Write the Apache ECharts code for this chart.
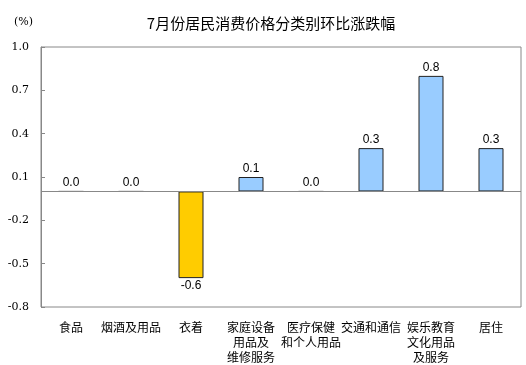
<!DOCTYPE html>
<html>
<head>
<meta charset="utf-8">
<script src="https://cdn.jsdelivr.net/npm/echarts@6/dist/echarts.min.js"></script>
<style>
html,body{margin:0;padding:0;background:#fff;}
#c{width:526px;height:365px;}
</style>
</head>
<body>
<div id="c"></div>
<script>
var titleText = '7月份居民消费价格分类别环比涨跌幅';
var unitText = '(%)';
var categories = ['食品', '烟酒及用品', '衣着', '家庭设备\n用品及\n维修服务', '医疗保健\n和个人用品', '交通和通信', '娱乐教育\n文化用品\n及服务', '居住'];
var values = [0.0, 0.0, -0.6, 0.1, 0.0, 0.3, 0.8, 0.3];
var yTicks = [-0.8, -0.5, -0.2, 0.1, 0.4, 0.7, 1.0];
var yMin = -0.8, yMax = 1.0;

var chart = echarts.init(document.getElementById('c'), null, {renderer: 'canvas'});
var cjk = 'Noto Sans CJK SC';
var serif = 'DejaVu Serif';
var sans = 'Liberation Sans';

chart.setOption({
  animation: false,
  backgroundColor: '#fff',
  title: {
    text: titleText,
    left: 266, top: 11, textAlign: 'center',
    textStyle: {fontFamily: cjk, fontSize: 15, fontWeight: 'normal', color: '#000'}
  },
  graphic: [{
    type: 'text', left: 14, top: 17,
    style: {text: unitText, fontFamily: serif, fontSize: 11, fill: '#000'}
  }],
  grid: {left: 41, right: 5, top: 47, bottom: 57, show: true, borderColor: '#888', borderWidth: 1, containLabel: false},
  xAxis: {
    type: 'category',
    data: categories,
    axisLine: {show: false, onZero: false},
    axisTick: {show: false},
    axisLabel: {interval: 0, margin: 13, fontFamily: cjk, fontSize: 12, color: '#000', lineHeight: 15, align: 'center'},
    splitLine: {show: false}
  },
  yAxis: {
    type: 'value',
    min: yMin, max: yMax,
    axisLine: {show: true, lineStyle: {color: '#888'}},
    axisTick: {show: true, inside: true, length: 4, customValues: yTicks, lineStyle: {color: '#888'}},
    axisLabel: {customValues: yTicks, margin: 12, fontFamily: serif, fontSize: 11, color: '#000', formatter: function(v){ return (Math.round(v*10)/10).toFixed(1); }},
    splitLine: {show: false}
  },
  series: [{
    type: 'bar',
    data: values.map(function(v){
      return {
        value: v,
        itemStyle: {color: v < 0 ? '#FFCC00' : '#99CCFF'},
        label: {position: v < 0 ? 'bottom' : 'top'}
      };
    }),
    barWidth: 25,
    itemStyle: {borderColor: '#222', borderWidth: 1},
    label: {
      show: true,
      distance: 2,
      fontFamily: sans, fontSize: 12, color: '#000',
      formatter: function(p){ return p.value.toFixed(1); }
    },
    markLine: {
      silent: true, symbol: 'none',
      label: {show: false},
      lineStyle: {color: '#888', type: 'solid', width: 1},
      data: [{yAxis: 0}]
    }
  }]
});
</script>
</body>
</html>
